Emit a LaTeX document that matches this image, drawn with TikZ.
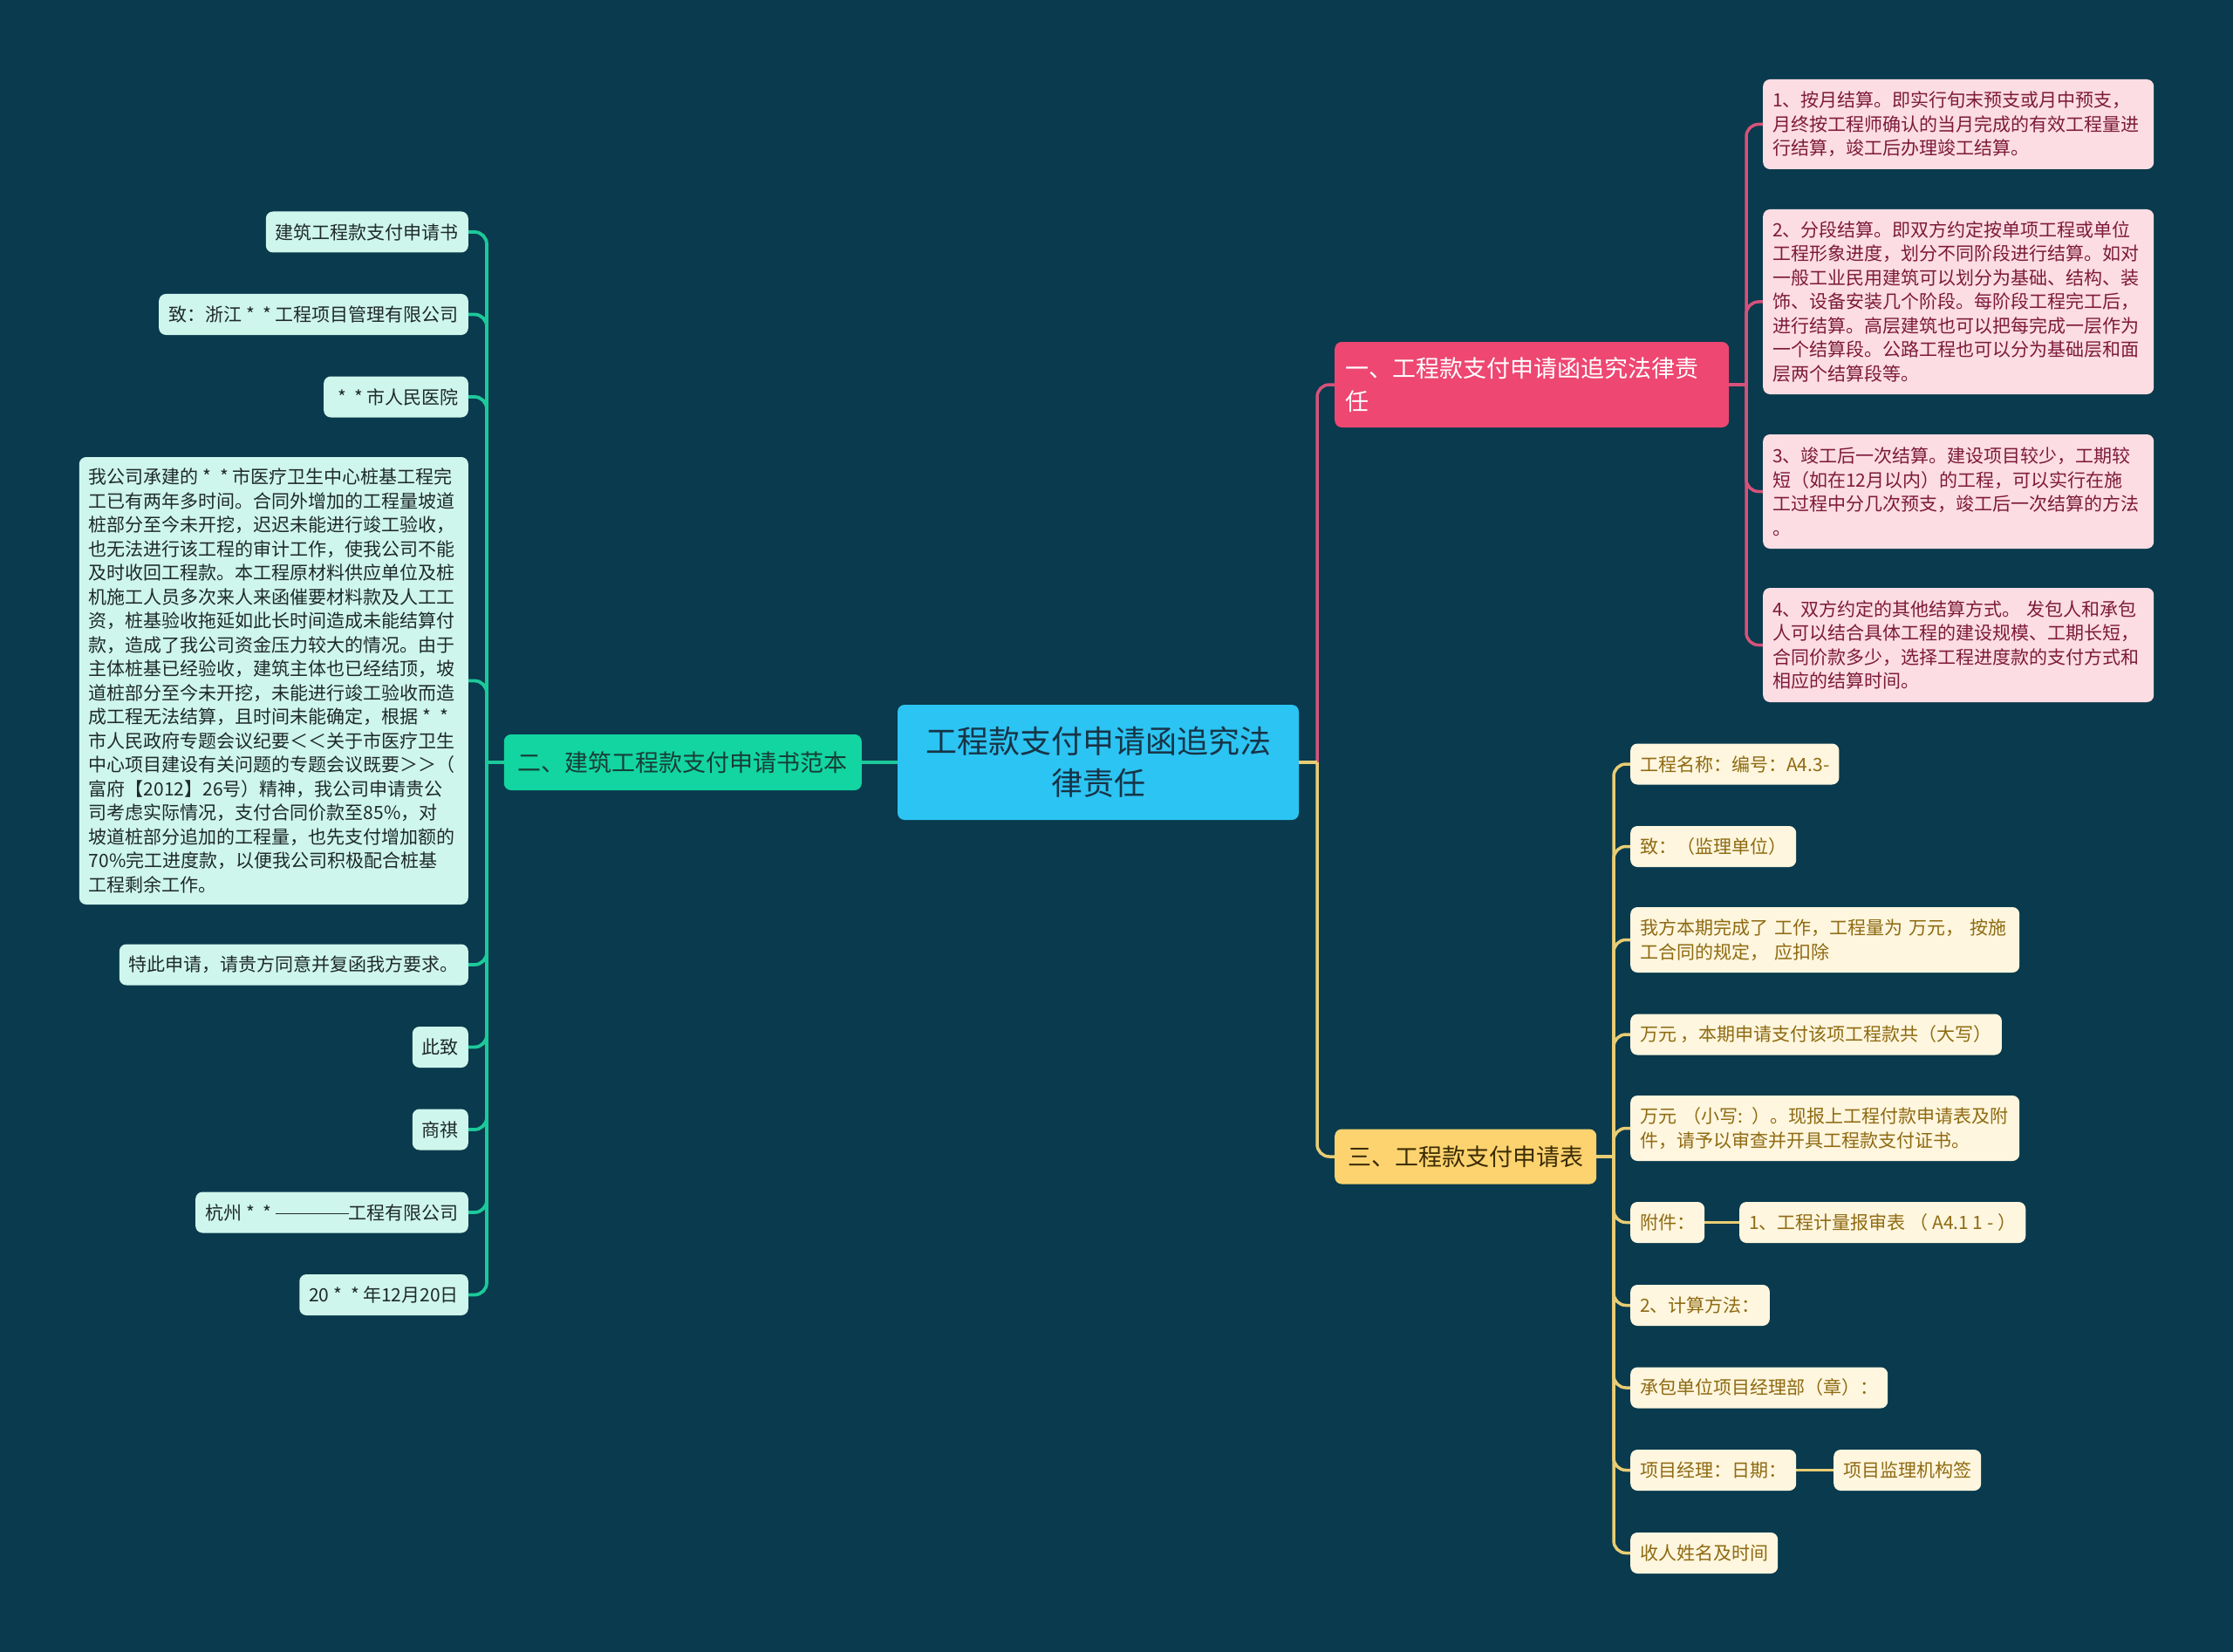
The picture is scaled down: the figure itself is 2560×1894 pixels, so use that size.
\documentclass[tikz,border=0pt]{standalone}
\usepackage{fontspec}
\setmainfont{Noto Sans CJK SC}
\definecolor{bgc}{HTML}{093A4D}
\definecolor{ctrfill}{HTML}{2CC4F2}
\definecolor{ctrtext}{HTML}{173447}
\definecolor{pinkb}{HTML}{EE4772}
\definecolor{pinkfill}{HTML}{FCDDE3}
\definecolor{pinktext}{HTML}{7D1A3B}
\definecolor{pinkline}{HTML}{D6527A}
\definecolor{greenb}{HTML}{12D5A1}
\definecolor{greenbtext}{HTML}{173D36}
\definecolor{greenfill}{HTML}{CFF6EC}
\definecolor{greentext}{HTML}{1E2A2A}
\definecolor{greenline}{HTML}{1CC99A}
\definecolor{yellowb}{HTML}{FDD36F}
\definecolor{yellowbtext}{HTML}{3B2C05}
\definecolor{yellowfill}{HTML}{FEF6DE}
\definecolor{yellowtext}{HTML}{8E6A12}
\definecolor{yellowline}{HTML}{E9CD74}
\newcommand\twostars{\hspace{5pt}*\hspace{10pt}*\hspace{4pt}}
\pgfdeclarelayer{bglayer}
\pgfdeclarelayer{lines}
\pgfsetlayers{bglayer,lines,main}
\tikzset{
  smallbox/.style={rounded corners=8pt, inner xsep=11pt, inner ysep=0pt, minimum height=47pt,
    font=\fontsize{21}{27.5}\selectfont, align=left},
  pinkchild/.style={smallbox, fill=pinkfill, text=pinktext, anchor=west, text width=426pt},
  greenchild/.style={smallbox, fill=greenfill, text=greentext, anchor=east},
  yellowchild/.style={smallbox, fill=yellowfill, text=yellowtext, anchor=west},
  ctrbox/.style={fill=ctrfill, text=ctrtext, rounded corners=8pt, minimum width=460pt,
    minimum height=132pt, align=center, inner sep=0pt, font=\fontsize{36}{48}\selectfont},
  bigbox/.style={rounded corners=8pt, inner ysep=0pt, font=\fontsize{27}{38}\selectfont, align=left},
  pl/.style={draw=pinkline, line width=3.5pt, rounded corners=14pt},
  gl/.style={draw=greenline, line width=3.8pt, rounded corners=14pt},
  yl/.style={draw=yellowline, line width=3.5pt, rounded corners=14pt}
}
\begin{document}
\begin{tikzpicture}[x=1pt,y=-1pt]
\begin{pgfonlayer}{bglayer}
\fill[bgc] (0,0) rectangle (2560,1894);
\end{pgfonlayer}
\useasboundingbox (0,0) rectangle (2560,1894);

% center
\node[ctrbox] (c) at (1259,874) {工程款支付申请函追究法\\律责任};

% main branches
\node[bigbox, fill=pinkb, text=white, anchor=west, text width=427pt, inner xsep=12.5pt, minimum height=98pt] (b1) at (1530,441) {一、工程款支付申请函追究法律责\\任};
\node[bigbox, fill=greenb, text=greenbtext, anchor=east, minimum width=410pt, minimum height=64pt, align=center] (b2) at (988,874) {二、建筑工程款支付申请书范本};
\node[bigbox, fill=yellowb, text=yellowbtext, anchor=west, minimum width=300pt, minimum height=63pt, align=center] (b3) at (1530,1326) {三、工程款支付申请表};

% trunk points
\coordinate (t0) at (1510,874);
\coordinate (t1) at (2002,441);
\coordinate (t2) at (558,874);
\coordinate (t3) at (1850,1326);

% pink children
\node[pinkchild, minimum height=103pt] (p1) at (2021,142.5) {1、按月结算。即实行旬末预支或月中预支，\\月终按工程师确认的当月完成的有效工程量进\\行结算，竣工后办理竣工结算。};
\node[pinkchild, minimum height=212pt] (p2) at (2021,346) {2、分段结算。即双方约定按单项工程或单位\\工程形象进度，划分不同阶段进行结算。如对\\一般工业民用建筑可以划分为基础、结构、装\\饰、设备安装几个阶段。每阶段工程完工后，\\进行结算。高层建筑也可以把每完成一层作为\\一个结算段。公路工程也可以分为基础层和面\\层两个结算段等。};
\node[pinkchild, minimum height=131pt] (p3) at (2021,563.5) {3、竣工后一次结算。建设项目较少，工期较\\短（如在12月以内）的工程，可以实行在施\\工过程中分几次预支，竣工后一次结算的方法\\。};
\node[pinkchild, minimum height=131pt] (p4) at (2021,739.5) {4、双方约定的其他结算方式。 发包人和承包\\人可以结合具体工程的建设规模、工期长短，\\合同价款多少，选择工程进度款的支付方式和\\相应的结算时间。};

% green children
\node[greenchild] (g1) at (537,266) {建筑工程款支付申请书};
\node[greenchild] (g2) at (537,360.5) {致：浙江\twostars 工程项目管理有限公司};
\node[greenchild] (g3) at (537,455) {\twostars 市人民医院};
\node[greenchild, text width=424pt, minimum height=513pt] (g4) at (537,780.5) {我公司承建的\twostars 市医疗卫生中心桩基工程完\\工已有两年多时间。合同外增加的工程量坡道\\桩部分至今未开挖，迟迟未能进行竣工验收，\\也无法进行该工程的审计工作，使我公司不能\\及时收回工程款。本工程原材料供应单位及桩\\机施工人员多次来人来函催要材料款及人工工\\资，桩基验收拖延如此长时间造成未能结算付\\款，造成了我公司资金压力较大的情况。由于\\主体桩基已经验收，建筑主体也已经结顶，坡\\道桩部分至今未开挖，未能进行竣工验收而造\\成工程无法结算，且时间未能确定，根据\twostars\\市人民政府专题会议纪要＜＜关于市医疗卫生\\中心项目建设有关问题的专题会议既要＞＞（\\富府【2012】26号）精神，我公司申请贵公\\司考虑实际情况，支付合同价款至85\%，对\\坡道桩部分追加的工程量，也先支付增加额的\\70\%完工进度款，以便我公司积极配合桩基\\工程剩余工作。};
\node[greenchild] (g5) at (537,1106) {特此申请，请贵方同意并复函我方要求。};
\node[greenchild] (g6) at (537,1200.5) {此致};
\node[greenchild] (g7) at (537,1295) {商祺};
\node[greenchild] (g8) at (537,1390) {杭州\twostars\rule[0.3em]{84pt}{1.2pt}工程有限公司};
\node[greenchild] (g9) at (537,1484.5) {20\twostars 年12月20日};

% yellow children
\node[yellowchild] (y1) at (1869,876) {工程名称：编号：A4.3-};
\node[yellowchild] (y2) at (1869,970.5) {致：（监理单位）};
\node[yellowchild, text width=424pt, minimum height=75pt] (y3) at (1869,1077.5) {我方本期完成了 工作，工程量为 万元， 按施\\工合同的规定， 应扣除};
\node[yellowchild] (y4) at (1869,1186) {万元 ，本期申请支付该项工程款共（大写）};
\node[yellowchild, text width=424pt, minimum height=75pt] (y5) at (1869,1293.5) {万元 （小写: ）。现报上工程付款申请表及附\\件，请予以审查并开具工程款支付证书。};
\node[yellowchild] (y6) at (1869,1401.5) {附件：};
\node[yellowchild] (y6a) at (1994,1401.5) {1、工程计量报审表 （ A4.1 1 - ）};
\node[yellowchild] (y7) at (1869,1496.5) {2、计算方法：};
\node[yellowchild] (y8) at (1869,1591) {承包单位项目经理部（章）：};
\node[yellowchild] (y9) at (1869,1685.5) {项目经理：日期：};
\node[yellowchild] (y9a) at (2102,1685.5) {项目监理机构签};
\node[yellowchild] (y10) at (1869,1780.5) {收人姓名及时间};

\begin{pgfonlayer}{lines}
\draw[pl] (t0) |- (b1.west);
\draw[yl] (t0) |- (b3.west);
\draw[yl] (c.east) -- (t0);
\draw[gl] (c.west) -- (b2.east);
\draw[pl] (b1.east) -- (t1);
\foreach \n in {p1,p2,p3,p4} {\draw[pl] (t1) |- (\n.west);}
\draw[gl] (b2.west) -- (t2);
\foreach \n in {g1,g2,g3,g4,g5,g6,g7,g8,g9} {\draw[gl] (t2) |- (\n.east);}
\draw[yl] (b3.east) -- (t3);
\foreach \n in {y1,y2,y3,y4,y5,y6,y7,y8,y9,y10} {\draw[yl] (t3) |- (\n.west);}
\draw[yl] (y6.east) -- (y6a.west);
\draw[yl] (y9.east) -- (y9a.west);
\end{pgfonlayer}
\end{tikzpicture}
\end{document}
